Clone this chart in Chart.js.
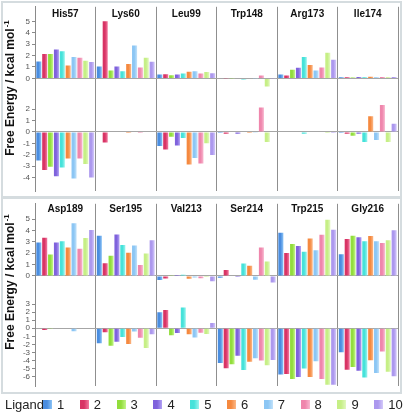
<!DOCTYPE html>
<html><head><meta charset="utf-8">
<script src="https://cdn.jsdelivr.net/npm/chart.js@4.4.0/dist/chart.umd.min.js"></script>
<style>
html,body{margin:0;padding:0;background:#fff;width:404px;height:412px;overflow:hidden;font-family:"Liberation Sans",Arial,sans-serif;}
.panel{position:absolute;left:1px;width:401px;border:2px solid #d5dcdf;box-sizing:border-box;}
#p1{top:1px;height:198px;}
#p2{top:196px;height:198px;}
canvas{position:absolute;left:0;}
#c1{top:0;}
#c2{top:197px;}
#legend{position:absolute;left:5px;top:397px;height:15px;display:flex;align-items:center;font-size:13px;color:#222;}
#legend .lab{width:38px;}
#legend .item{display:flex;align-items:center;width:36.8px;}
#legend .box{width:9px;height:9px;margin-right:5px;}
</style></head><body>
<div class="panel" id="p1"></div><div class="panel" id="p2"></div>
<canvas id="c1" width="404" height="198"></canvas>
<canvas id="c2" width="404" height="196"></canvas>
<div id="legend"></div>
<script>
const ligands = ['1','2','3','4','5','6','7','8','9','10'];
const ligandColors = ['#4a8de0','#d83465','#92dd3c','#7f62dc','#46e2da','#f5893f','#8cc6f4','#ef86ac','#c6ef86','#ac98ee'];
const ligandLight  = ['#8cc4f6','#f27aa0','#c4f58a','#b2a2f4','#9cf4ee','#fbb888','#c2e2fa','#f8b8d0','#e2f8c0','#d4cafa'];
const topResidues = ['His57','Lys60','Leu99','Trp148','Arg173','Ile174'];
const botResidues = ['Asp189','Ser195','Val213','Ser214','Trp215','Gly216'];
const yTitle = 'Free Energy / kcal mol';
const yTitleSup = '-1';
const legendTitle = 'Ligand';

// values[residue][ligand]
const topUpper = [
  [1.49, 2.14, 2.13, 2.52, 2.38, 1.12, 1.88, 1.80, 1.54, 1.43],
  [1.04, 5.00, 0.70, 1.04, 0.62, 1.26, 2.89, 0.95, 1.80, 1.46],
  [0.34, 0.37, 0.28, 0.34, 0.42, 0.59, 0.62, 0.42, 0.56, 0.45],
  [0.03, 0.02, 0.02, -0.05, -0.10, -0.05, -0.03, 0.25, -0.72, 0.02],
  [0.34, 0.25, 0.76, 0.93, 1.88, 1.18, 0.70, 0.95, 2.25, 1.63],
  [0.10, 0.10, 0.08, 0.12, 0.10, 0.15, 0.10, 0.12, 0.10, 0.12]
];
const topLower = [
  [-2.51, -3.33, -3.05, -3.87, -3.11, -2.32, -4.07, -2.32, -2.80, -3.98],
  [-0.05, -0.93, -0.05, -0.05, -0.05, -0.10, -0.05, -0.10, -0.05, -0.05],
  [-1.24, -1.53, -0.42, -1.19, -0.54, -2.85, -2.29, -2.77, -0.99, -2.03],
  [-0.10, -0.15, -0.05, -0.15, -0.05, -0.10, -0.03, 2.15, -0.88, -0.05],
  [-0.05, -0.05, -0.05, -0.05, -0.15, -0.05, -0.05, -0.05, -0.10, -0.10],
  [-0.10, -0.15, -0.34, -0.15, -0.88, 1.38, -0.71, 2.37, -0.88, 0.71]
];
const botUpper = [
  [2.95, 3.36, 1.88, 2.95, 3.06, 2.50, 4.63, 2.39, 3.34, 4.04],
  [3.54, 1.12, 1.77, 3.65, 2.72, 2.05, 2.67, 0.96, 1.97, 3.15],
  [-0.37, -0.22, 0.05, 0.08, 0.10, -0.25, -0.15, -0.20, -0.10, -0.48],
  [-0.17, 0.53, 0.03, -0.10, 1.10, 0.90, -0.34, 2.50, 1.26, -0.59],
  [3.79, 2.02, 2.81, 2.64, 2.13, 3.29, 2.25, 3.62, 4.94, 4.07],
  [1.91, 3.26, 3.54, 3.40, 3.06, 3.51, 3.06, 2.89, 3.15, 4.02]
];
const botLower = [
  [-0.05, -0.20, -0.10, -0.05, -0.05, -0.05, -0.36, -0.05, -0.05, -0.05],
  [-1.87, -0.48, -2.18, -1.67, -1.07, -1.94, -0.40, -1.19, -2.46, -0.75],
  [1.98, 2.26, -0.87, -0.60, 2.58, -0.75, -1.15, -0.56, -0.71, 0.67],
  [-4.33, -4.96, -4.48, -3.41, -5.20, -4.17, -3.73, -4.01, -4.60, -3.93],
  [-5.75, -5.67, -6.31, -6.07, -5.00, -6.07, -4.09, -6.31, -7.02, -7.02],
  [-2.98, -5.16, -4.80, -5.28, -6.11, -3.97, -5.56, -2.90, -5.40, -5.95]
];
// tick ranges shown on each sub-axis
const topUpperTicks = [-1, 5];
const topLowerTicks = [-5, 2];
const botUpperTicks = [-1, 5];
const botLowerTicks = [-7, 3];

const FONT = '"Liberation Sans", Arial, sans-serif';

const gradientPlugin = {
  id: 'barGradient',
  beforeDatasetsDraw(chart) {
    const ctx = chart.ctx;
    chart.data.datasets.forEach((ds, di) => {
      const meta = chart.getDatasetMeta(di);
      const li = ds.ligandIndex;
      meta.data.forEach(el => {
        const x0 = el.x - el.width / 2;
        const g = ctx.createLinearGradient(x0, 0, x0 + el.width, 0);
        g.addColorStop(0, ligandColors[li]);
        g.addColorStop(0.45, ligandColors[li]);
        g.addColorStop(1, ligandLight[li]);
        el.options.backgroundColor = g;
      });
    });
  }
};

const labelPlugin = {
  id: 'panelLabels',
  afterDraw(chart) {
    const o = chart.options.plugins.panelLabels;
    const ctx = chart.ctx;
    const xs = chart.scales.x;
    ctx.save();
    ctx.fillStyle = '#111';
    ctx.font = 'bold 10px ' + FONT;
    ctx.textAlign = 'center';
    ctx.textBaseline = 'middle';
    chart.data.labels.forEach((lab, i) => {
      ctx.fillText(lab, xs.getPixelForValue(i), o.titleY);
    });
    // rotated y title
    ctx.translate(o.yTitleX, o.yTitleY);
    ctx.rotate(-Math.PI / 2);
    ctx.font = 'bold 12px ' + FONT;
    const w1 = ctx.measureText(yTitle).width;
    ctx.font = 'bold 8px ' + FONT;
    const w2 = ctx.measureText(yTitleSup).width;
    const start = -(w1 + w2 + 1) / 2;
    ctx.textAlign = 'left';
    ctx.textBaseline = 'alphabetic';
    ctx.font = 'bold 12px ' + FONT;
    ctx.fillText(yTitle, start, 4);
    ctx.font = 'bold 8px ' + FONT;
    ctx.fillText(yTitleSup, start + w1 + 1, -1);
    ctx.restore();
  }
};

function yAxis(min, max, tickRange, weight) {
  return {
    type: 'linear', position: 'left', stack: 'panel', stackWeight: weight,
    min: min, max: max,
    afterBuildTicks: s => { s.ticks = s.ticks.filter(t => Number.isInteger(t.value) && t.value >= tickRange[0] && t.value <= tickRange[1]); },
    afterFit: s => { s.width = 35; },
    ticks: { stepSize: 1, autoSkip: false, font: { size: 8, family: FONT }, color: '#555', padding: 2 },
    grid: {
      color: c => (c.tick && c.tick.value === 0) ? '#a6a6a6' : 'rgba(0,0,0,0)',
      tickColor: '#8a8a8a', tickLength: 3, lineWidth: 1
    },
    border: { display: true, color: '#8a8a8a', width: 1 }
  };
}

function makeChart(id, residues, upper, lower, ranges, padding, titleY, yTitleY) {
  const datasets = [];
  ligands.forEach((lg, j) => {
    datasets.push({ label: lg, ligandIndex: j, stack: 'L' + j, yAxisID: 'yU',
      data: upper.map(r => r[j]), backgroundColor: () => ligandColors[j] });
  });
  ligands.forEach((lg, j) => {
    datasets.push({ label: lg, ligandIndex: j, stack: 'L' + j, yAxisID: 'yL',
      data: lower.map(r => r[j]), backgroundColor: () => ligandColors[j] });
  });
  return new Chart(document.getElementById(id), {
    type: 'bar',
    data: { labels: residues, datasets },
    plugins: [gradientPlugin, labelPlugin],
    options: {
      responsive: false, animation: false, devicePixelRatio: 1,
      layout: { padding: padding },
      categoryPercentage: 0.97, barPercentage: 0.86,
      plugins: { legend: { display: false }, tooltip: { enabled: false },
        panelLabels: { titleY: titleY, yTitleX: 10, yTitleY: yTitleY } },
      scales: {
        x: {
          position: 'bottom',
          ticks: { display: false },
          grid: { offset: true, drawTicks: false, lineWidth: 1,
            color: c => (c.index === 0 || c.index === residues.length) ? 'rgba(0,0,0,0)' : '#8f8f8f' },
          border: { display: false }
        },
        yL: yAxis(ranges[2], ranges[3], ranges[5], (ranges[3] - ranges[2]) * ranges[6]),
        yU: yAxis(ranges[0], ranges[1], ranges[4], ranges[1] - ranges[0])
      }
    }
  });
}

makeChart('c1', topResidues, topUpper, topLower,
  [-1.69, 6.27, -5.19, 3.0, topUpperTicks, topLowerTicks, 1.0],
  { top: 4, bottom: 3, left: 0, right: 6 }, 14, 88);
makeChart('c2', botResidues, botUpper, botLower,
  [-1.61, 6.35, -7.2, 4.24, botUpperTicks, botLowerTicks, 8.4 / 11.86],
  { top: 3, bottom: 2.5, left: 0, right: 6 }, 12.5, 85);

// legend
const lg = document.getElementById('legend');
const t = document.createElement('span'); t.className = 'lab'; t.textContent = legendTitle; lg.appendChild(t);
ligands.forEach((name, j) => {
  const it = document.createElement('span'); it.className = 'item';
  const b = document.createElement('span'); b.className = 'box';
  b.style.background = 'linear-gradient(to right,' + ligandColors[j] + ' 0%,' + ligandColors[j] + ' 45%,' + ligandLight[j] + ' 100%)';
  const s = document.createElement('span'); s.textContent = name;
  it.appendChild(b); it.appendChild(s); lg.appendChild(it);
});
</script>
</body></html>
